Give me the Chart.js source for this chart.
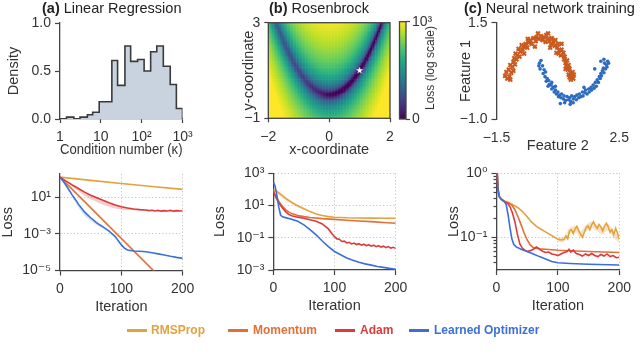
<!DOCTYPE html>
<html><head><meta charset="utf-8">
<script src="https://cdn.jsdelivr.net/npm/chart.js@4.4.0/dist/chart.umd.min.js"></script>
<style>
html,body{margin:0;padding:0;background:#fff;}
#wrap{position:relative;width:640px;height:358px;overflow:hidden;font-family:'Liberation Sans',Arial,'DejaVu Sans',sans-serif;color:#333;}
canvas{position:absolute;left:0;top:0;}
.ttl{position:absolute;top:0;font-size:14.5px;line-height:16px;white-space:nowrap;color:#222;}
.cbl{position:absolute;left:430px;top:68px;font-size:12px;line-height:14px;white-space:nowrap;color:#333;transform:translate(-50%,-50%) rotate(-90deg);}
.li{position:absolute;top:323px;height:14px;font-size:12px;line-height:14px;font-weight:bold;white-space:nowrap;}
.sw{position:absolute;top:329px;height:3px;width:20px;}
</style></head>
<body><div id="wrap">
<canvas id="c1" width="640" height="358"></canvas>
<canvas id="c2" width="640" height="358"></canvas>
<canvas id="c3" width="640" height="358"></canvas>
<canvas id="c4" width="640" height="358"></canvas>
<canvas id="c5" width="640" height="358"></canvas>
<canvas id="c6" width="640" height="358"></canvas>
<canvas id="c7" width="640" height="358"></canvas>
<div class="ttl" style="left:42px"><b>(a)</b> Linear Regression</div>
<div class="ttl" style="left:269px"><b>(b)</b> Rosenbrock</div>
<div class="ttl" style="left:464px"><b>(c)</b> Neural network training</div>
<div class="cbl">Loss (log scale)</div>
<div id="legend"></div>
</div>
<script>
// ---------------- data ----------------
// (a) histogram of condition numbers (bin edges in log10 kappa)
const kappaBinEdgesLog10 = [0,0.16,0.34,0.49,0.67,0.80,0.96,1.10,1.27,1.41,1.59,1.73,1.90,2.06,2.22,2.37,2.53,2.70,2.85,3.0];
const kappaDensity = [0,0.02,0,0.02,0.045,0.07,0.18,0.18,0.61,0.35,0.76,0.60,0.62,0.50,0.70,0.76,0.55,0.36,0.11];
const kappaTickVals = [0,1,2,3];
const kappaTickLabels = ['1','10','10²','10³'];
const densityTickVals = [0,0.5,1];
const densityTickLabels = ['0.0','0.5','1.0'];

// (b) Rosenbrock surface
const rosenA = 1, rosenB = 100;
const rbXMin = -2, rbXMax = 2, rbYMin = -1, rbYMax = 3, rbStep = 0.05;
const rbMinimum = [1, 1];
const cbMin = 0, cbMax = 3;            // colour bar in log10 units
const cbTickVals = [0, 3];
const cbTickLabels = ['0', '10³'];

// (c) two moons
const moonOrange = [[-1.22,0.12],[-1.15,0.05],[-1.05,0.02],[-1.08,0.10],[-1.18,0.22],[-1.10,0.28],[-1.02,0.20],[-0.98,0.35],[-1.05,0.40],[-0.95,0.48],[-0.90,0.42],[-0.92,0.58],[-0.85,0.55],[-0.82,0.66],[-0.88,0.70],[-0.75,0.62],[-0.72,0.75],[-0.78,0.82],[-0.65,0.80],[-0.60,0.88],[-0.68,0.92],[-0.55,0.95],[-0.50,0.85],[-0.45,0.98],[-0.40,1.05],[-0.48,1.08],[-0.35,0.95],[-0.30,1.10],[-0.22,1.02],[-0.20,1.12],[-0.12,1.08],[-0.05,1.15],[0.00,1.05],[0.05,1.12],[0.10,1.00],[0.12,1.18],[0.18,1.08],[0.22,1.02],[0.28,0.95],[0.30,1.10],[0.35,1.00],[0.40,0.90],[0.42,1.05],[0.48,0.85],[0.50,0.95],[0.55,0.78],[0.52,0.70],[0.60,0.65],[0.62,0.80],[0.68,0.72],[0.70,0.55],[0.72,0.62],[0.75,0.45],[0.80,0.52],[0.78,0.38],[0.85,0.40],[0.82,0.28],[0.88,0.30],[0.90,0.20],[0.85,0.15],[0.95,0.12],[1.00,0.05],[0.92,0.02],[0.88,0.08],[0.98,0.22],[0.75,0.30],[0.45,0.72],[0.25,0.85],[-0.25,0.88],[-0.60,0.70],[-0.95,0.25],[1.02,0.15],[0.62,0.95],[-0.15,1.22],[0.18,1.22]];
const moonBlue = [[-0.10,0.45],[-0.05,0.52],[0.00,0.38],[-0.08,0.30],[0.05,0.28],[0.02,0.18],[0.10,0.22],[0.08,0.10],[0.15,0.05],[0.12,-0.02],[0.20,0.00],[0.22,-0.10],[0.18,-0.15],[0.28,-0.12],[0.30,-0.22],[0.35,-0.18],[0.38,-0.30],[0.42,-0.25],[0.45,-0.35],[0.50,-0.30],[0.52,-0.42],[0.55,-0.38],[0.60,-0.45],[0.62,-0.35],[0.68,-0.48],[0.70,-0.40],[0.75,-0.52],[0.80,-0.42],[0.85,-0.50],[0.88,-0.45],[0.92,-0.55],[0.95,-0.40],[1.00,-0.48],[1.05,-0.42],[1.10,-0.50],[1.12,-0.38],[1.18,-0.45],[1.20,-0.35],[1.25,-0.42],[1.30,-0.30],[1.32,-0.40],[1.38,-0.32],[1.40,-0.25],[1.45,-0.35],[1.50,-0.22],[1.52,-0.30],[1.58,-0.18],[1.60,-0.25],[1.65,-0.12],[1.68,-0.20],[1.72,-0.05],[1.75,-0.15],[1.78,0.02],[1.82,-0.05],[1.85,0.10],[1.88,0.05],[1.90,0.18],[1.92,0.12],[1.95,0.25],[2.00,0.20],[1.98,0.32],[2.05,0.30],[2.08,0.40],[2.10,0.35],[2.15,0.45],[2.12,0.50],[1.70,0.30],[0.58,-0.60],[0.90,-0.62],[1.00,-0.58],[0.30,-0.05],[0.42,-0.15],[1.35,-0.18],[2.02,0.45],[0.72,-0.58],[-0.12,0.38],[1.90,0.50],[2.00,0.55]];

// loss curves: iterations and loss values
const iterTicks = [0,100,200];
const iterTickLabels = ['0','100','200'];
// (a)
const iterRmsA = [0,50,100,150,200];
const lossRmsA = [1.26,0.83,0.56,0.39,0.27];
const iterMomA = [0,200];
const lossMomA = [1.26,2.5e-7];
const iterAdamA = [0,10,20,30,40,50,60,70,80,90,100,110,120,130,140,145,150,155,160,165,170,175,180,185,190,195,200];
const lossAdamA = [1.26,0.76,0.47,0.30,0.19,0.13,0.095,0.068,0.050,0.038,0.030,0.026,0.023,0.021,0.020,0.0186,0.0195,0.0178,0.0191,0.0174,0.0186,0.0178,0.0191,0.0174,0.0186,0.0178,0.0182];
const iterLearnA = [0,5,10,15,20,25,30,40,50,60,70,80,90,100,105,110,120,130,140,150,160,170,180,190,200];
const lossLearnA = [1.26,0.76,0.44,0.24,0.13,0.076,0.042,0.0158,0.0076,0.0040,0.0024,0.0014,7.1e-4,2.5e-4,1.66e-4,1.32e-4,1.17e-4,1.12e-4,1.05e-4,9.3e-5,8.1e-5,7.1e-5,6.0e-5,5.2e-5,4.6e-5];
const bandIterAdamA = [20,30,40,50,60,70,80,90,100,110,120,130,140];
const bandLoAdamA = [0.39,0.21,0.12,0.079,0.055,0.039,0.030,0.024,0.021,0.020,0.0195,0.0186,0.0191];
const bandHiAdamA = [0.49,0.32,0.20,0.138,0.10,0.071,0.052,0.040,0.032,0.0275,0.0245,0.022,0.0204];
const bandIterLearnA = [20,30,40,50,60,70];
const bandLoLearnA = [0.10,0.028,0.0105,0.0052,0.0030,0.0020];
const bandHiLearnA = [0.141,0.045,0.017,0.0081,0.0042,0.0025];
const lossTickValsA = [1e-1,1e-3,1e-5];
const lossTickLabelsA = ['10¹','10⁻³','10⁻⁵'];
// (b)
const iterRmsB = [0,5,10,20,30,40,50,60,70,80,90,100,120,140,160,180,200];
const lossRmsB = [100,79,56,28,15.8,9.5,6.3,4.2,3.0,2.4,2.04,1.86,1.74,1.70,1.66,1.62,1.62];
const bandIterRmsB = [5,10,20,30,40,50,60];
const bandLoRmsB = [63,45,22,12.6,7.9,5.5,3.8];
const bandHiRmsB = [100,71,35,20,11.5,7.2,4.6];
const iterMomB = [0,5,10,15,20,25,30,40,50,60,80,100,120,140,160,180,200];
const lossMomB = [79,35,15.8,8.9,5.6,4.0,3.16,2.4,2.04,1.82,1.55,1.38,1.23,1.10,1.0,0.89,0.79];
const iterAdamB = [0,5,10,15,20,25,30,40,50,60,70,80,90,96,100,104,108,112,116,120,124,128,132,136,140,144,148,152,156,160,164,168,172,176,180,184,188,192,196,200];
const lossAdamB = [79,28,12.6,7.1,4.2,2.8,2.3,1.9,1.62,1.32,1.05,0.72,0.355,0.178,0.117,0.0851,0.0813,0.0589,0.0617,0.0479,0.0525,0.0417,0.0468,0.0380,0.0427,0.0347,0.0398,0.0324,0.0372,0.0302,0.0347,0.0282,0.0324,0.0263,0.0302,0.0245,0.0282,0.0229,0.0257,0.0219];
const iterLearnB = [0,3,6,9,12,15,20,30,40,50,60,70,80,90,100,110,120,130,140,150,160,170,180,190,200];
const lossLearnB = [282,158,40,7.9,2.5,2.0,1.78,1.41,1.05,0.63,0.32,0.151,0.063,0.028,0.0141,0.0089,0.0056,0.0040,0.0030,0.0024,0.0020,0.00166,0.00145,0.00126,0.00112];
const lossTickValsB = [1e3,1e1,1e-1,1e-3];
const lossTickLabelsB = ['10³','10¹','10⁻¹','10⁻³'];
// (c)
const iterRmsC = [0,2,4,8,13,20,27,35,41,50,57,65,72,79,86,93,100,105,110,113,116,119,122,125,128,131,134,137,140,143,146,149,152,155,158,161,164,167,170,173,176,179,182,185,188,191,194,197,200];
const lossRmsC = [2.0,0.63,0.44,0.40,0.37,0.35,0.32,0.29,0.26,0.21,0.174,0.148,0.135,0.123,0.112,0.102,0.093,0.091,0.093,0.105,0.095,0.126,0.132,0.115,0.135,0.148,0.126,0.112,0.100,0.120,0.141,0.151,0.132,0.158,0.174,0.151,0.138,0.158,0.145,0.126,0.151,0.166,0.145,0.120,0.132,0.110,0.138,0.117,0.093];
const bandIterRmsC = [100,110,119,128,137,146,155,164,173,182,191,200];
const bandLoRmsC = [0.085,0.085,0.112,0.120,0.100,0.125,0.140,0.123,0.112,0.128,0.098,0.083];
const bandHiRmsC = [0.101,0.102,0.141,0.150,0.126,0.158,0.177,0.155,0.141,0.163,0.124,0.104];
const iterMomC = [0,2,4,8,13,20,25,30,35,40,45,50,55,60,70,80,100,150,200];
const lossMomC = [2.0,0.63,0.44,0.39,0.36,0.34,0.32,0.27,0.21,0.158,0.117,0.091,0.076,0.069,0.066,0.065,0.063,0.060,0.058];
const iterAdamC = [0,2,4,8,13,18,22,26,30,34,38,42,46,50,55,60,65,68,72,76,80,85,90,95,100,105,110,115,118,121,125,130,135,140,145,150,155,160,165,170,175,180,185,190,195,200];
const lossAdamC = [2.0,0.63,0.44,0.39,0.36,0.34,0.30,0.24,0.174,0.112,0.079,0.068,0.063,0.060,0.062,0.065,0.071,0.068,0.063,0.060,0.058,0.059,0.055,0.054,0.052,0.055,0.058,0.060,0.065,0.059,0.063,0.056,0.054,0.051,0.055,0.052,0.056,0.052,0.050,0.054,0.051,0.055,0.050,0.052,0.048,0.049];
const iterLearnC = [0,2,4,8,13,16,19,22,25,28,32,40,50,60,70,80,90,100,120,150,200];
const lossLearnC = [2.0,0.63,0.44,0.39,0.36,0.32,0.22,0.141,0.095,0.078,0.071,0.065,0.060,0.055,0.050,0.046,0.042,0.040,0.039,0.038,0.037];
const lossTickValsC = [1,1e-1];
const lossTickLabelsC = ['10⁰','10⁻¹'];
const lossMinorTicksC = [0.9,0.8,0.7,0.6,0.5,0.4,0.3,0.2,0.09,0.08,0.07,0.06,0.05,0.04];

const optimizerNames = ['RMSProp','Momentum','Adam','Learned Optimizer'];

// ---------------- styling / helpers ----------------
const W = 640, H = 358;
const INK = '#444', TXT = '#333', GRIDC = '#bdbdbd';
const TICKFONT = 14, TITLEFONT = 14.5;
const COLORS = {RMSProp:'#E2A23D', Momentum:'#E06F3A', Adam:'#DD3A3A', 'Learned Optimizer':'#3C6FD9'};
const VIR = ['#440154','#482475','#414487','#355f8d','#2a788e','#21918c','#22a884','#44bf70','#7ad151','#bddf26','#fde725'];

Chart.defaults.font.family = "'Liberation Sans', Arial, 'DejaVu Sans', sans-serif";
Chart.defaults.font.size = 13;
Chart.defaults.color = TXT;
Chart.defaults.animation = false;
Chart.defaults.events = [];
Chart.defaults.responsive = false;
Chart.defaults.plugins.legend.display = false;
Chart.defaults.plugins.tooltip.enabled = false;

function hex2rgb(h){ return [parseInt(h.slice(1,3),16), parseInt(h.slice(3,5),16), parseInt(h.slice(5,7),16)]; }
const VIRRGB = VIR.map(hex2rgb);
function viridis(t){
  t = Math.max(0, Math.min(1, t));
  const s = t * 10, i = Math.min(9, Math.floor(s)), f = s - i;
  const a = VIRRGB[i], b = VIRRGB[i+1];
  return 'rgb(' + [0,1,2].map(k => Math.round(a[k] + (b[k]-a[k]) * f)).join(',') + ')';
}
function zeroPad(s){ s.paddingLeft = 0; s.paddingRight = 0; s.paddingTop = 0; s.paddingBottom = 0; }
function near(u, v){ return Math.abs(u - v) <= Math.abs(u) * 1e-6 + 1e-12; }
function mkAxis(o){
  const vertical = o.pos === 'left' || o.pos === 'right';
  const dotted = o.dotted || [];
  return {
    type: o.type || 'linear', position: o.pos, min: o.min, max: o.max, weight: o.weight || 0,
    afterBuildTicks: s => { s.ticks = o.ticks.map(v => ({value: v})); },
    afterFit: s => { if (vertical) s.width = o.size; else s.height = o.size; zeroPad(s); },
    ticks: { display: !!o.labels, autoSkip: false, maxRotation: 0, minRotation: 0, padding: o.pad ?? 4,
      color: TXT, font: {size: TICKFONT},
      callback: v => { const i = o.ticks.findIndex(u => near(u, v)); return (i < 0 || !o.labels) ? '' : o.labels[i]; } },
    grid: { display: true, drawOnChartArea: dotted.length > 0, drawTicks: o.drawTicks !== false,
      tickLength: o.tickLen ?? 5, tickWidth: 1.2, tickColor: INK, lineWidth: 0.9,
      color: c => (c.tick && dotted.some(u => near(u, c.tick.value))) ? GRIDC : 'rgba(0,0,0,0)' },
    border: { display: o.border !== false, color: INK, width: 1.3, dash: [1.2, 2.2] },
    title: o.title ? { display: true, text: o.title, color: TXT, font: {size: TITLEFONT}, padding: 0 } : { display: false }
  };
}
function pad(area, wy, hx, wr){ return {left: area[0] - wy, top: area[1], right: W - area[2] - (wr || 0), bottom: H - area[3] - hx}; }
const framePlugin = { id: 'frame', afterDatasetsDraw(chart){ const a = chart.chartArea, c = chart.ctx; c.save(); c.strokeStyle = INK; c.lineWidth = 1.3; c.strokeRect(a.left, a.top, a.right - a.left, a.bottom - a.top); c.restore(); } };
function series(iters, vals){ return iters.map((x, i) => ({x, y: vals[i]})); }
function lineDs(iters, vals, name, order){ return {label: name, data: series(iters, vals), borderColor: COLORS[name], borderWidth: 1.6, pointRadius: 0, fill: false, order, tension: 0}; }
function bandDs(iters, lo, hi, color){
  return [{data: series(iters, hi), borderWidth: 0, borderColor: 'rgba(0,0,0,0)', pointRadius: 0, fill: '+1', backgroundColor: color, order: 20, tension: 0.3},
          {data: series(iters, lo), borderWidth: 0, borderColor: 'rgba(0,0,0,0)', pointRadius: 0, fill: false, order: 20, tension: 0.3}];
}

// ---------------- (a) histogram ----------------
(function(){
  const pts = [{x: kappaBinEdgesLog10[0], y: 0}];
  kappaDensity.forEach((d, i) => pts.push({x: kappaBinEdgesLog10[i], y: d}));
  pts.push({x: kappaBinEdgesLog10[kappaBinEdgesLog10.length - 1], y: kappaDensity[kappaDensity.length - 1]});
  pts.push({x: kappaBinEdgesLog10[kappaBinEdgesLog10.length - 1], y: 0});
  const area = [60, 23, 182.5, 119];
  new Chart(document.getElementById('c1'), {
    type: 'line',
    data: {datasets: [{data: pts, stepped: true, fill: 'origin', backgroundColor: '#c9d3df', borderColor: '#3a3a3a', borderWidth: 1.6, pointRadius: 0}]},
    options: {layout: {padding: pad(area, 55, 40)},
      scales: {
        x: mkAxis({pos: 'bottom', min: 0, max: 3, ticks: kappaTickVals, labels: kappaTickLabels, title: 'Condition number (κ)', size: 40, tickLen: 4, pad: 6}),
        y: mkAxis({pos: 'left', min: 0, max: 1, ticks: densityTickVals, labels: densityTickLabels, title: 'Density', size: 55})
      }}
  });
})();

// ---------------- (b) Rosenbrock heat map ----------------
(function(){
  const rosen = (x, y) => (rosenA - x) ** 2 + rosenB * (y - x * x) ** 2;
  const pts = [], cols = [];
  const nx = Math.round((rbXMax - rbXMin) / rbStep), ny = Math.round((rbYMax - rbYMin) / rbStep);
  for (let j = 0; j <= ny; j++) for (let i = 0; i <= nx; i++) {
    const x = rbXMin + i * rbStep, y = rbYMin + j * rbStep;
    const f = rosen(x, y);
    pts.push({x, y});
    cols.push(viridis((Math.log10(Math.max(f, 1e-9)) - cbMin) / (cbMax - cbMin)));
  }
  const star = document.createElement('canvas'); star.width = 9; star.height = 9;
  const sc = star.getContext('2d'); sc.fillStyle = '#fff'; sc.beginPath();
  for (let k = 0; k < 10; k++) { const r = k % 2 ? 1.5 : 3.8, a = -Math.PI / 2 + k * Math.PI / 5; const px = 4.5 + r * Math.cos(a), py = 4.5 + r * Math.sin(a); k ? sc.lineTo(px, py) : sc.moveTo(px, py); }
  sc.closePath(); sc.fill();
  const area = [268.3, 22.7, 390, 118.3];
  new Chart(document.getElementById('c2'), {
    type: 'scatter',
    data: {datasets: [
      {data: pts, pointStyle: 'rect', pointRadius: 1.3, backgroundColor: cols, pointBackgroundColor: cols, borderWidth: 0, pointBorderWidth: 0, order: 2},
      {data: [{x: rbMinimum[0], y: rbMinimum[1]}], pointStyle: star, pointRadius: 4, order: 1}
    ]},
    options: {layout: {padding: pad(area, 28.4, 40)},
      scales: {
        x: mkAxis({pos: 'bottom', min: rbXMin, max: rbXMax, ticks: [-2, 0, 2], labels: ['−2', '0', '2'], title: 'x-coordinate', size: 40, border: false, tickLen: 4, pad: 6}),
        y: mkAxis({pos: 'left', min: rbYMin, max: rbYMax, ticks: [-1, 3], labels: ['−1', '3'], title: 'y-coordinate', size: 28.4, border: false, tickLen: 4})
      }},
    plugins: [framePlugin]
  });
  // colour bar
  new Chart(document.getElementById('c3'), {
    type: 'bar',
    data: {labels: ['loss'], datasets: [{data: [[cbMin, cbMax]], borderWidth: 0, barPercentage: 1, categoryPercentage: 1,
      backgroundColor: ctx => {
        const ch = ctx.chart; if (!ch.chartArea) return '#888';
        const ys = ch.scales.y; const g = ch.ctx.createLinearGradient(0, ys.getPixelForValue(cbMin), 0, ys.getPixelForValue(cbMax));
        VIR.forEach((c, k) => g.addColorStop(k / (VIR.length - 1), c)); return g; }}]},
    options: {layout: {padding: {left: 399.5, top: 21.7, right: W - 406 - 30, bottom: H - 119}},
      scales: {
        x: {display: false},
        y: mkAxis({pos: 'right', min: cbMin, max: cbMax, ticks: cbTickVals, labels: cbTickLabels, size: 30, border: false, tickLen: 4, pad: 2})
      }},
    plugins: [framePlugin]
  });
})();

// ---------------- (c) two moons ----------------
(function(){
  const area = [496.5, 22.7, 619.3, 119];
  new Chart(document.getElementById('c4'), {
    type: 'scatter',
    data: {datasets: [
      {data: moonOrange.map(([x, y]) => ({x, y})), pointStyle: 'crossRot', pointRadius: 2.7, borderColor: '#c95a1f', pointBorderColor: '#c95a1f', pointBorderWidth: 2, borderWidth: 2},
      {data: moonBlue.map(([x, y]) => ({x, y})), pointStyle: 'circle', pointRadius: 1.8, backgroundColor: '#2d6cc0', pointBackgroundColor: '#2d6cc0', pointBorderWidth: 0, borderWidth: 0}
    ]},
    options: {layout: {padding: pad(area, 39.4, 36)},
      scales: {
        x: mkAxis({pos: 'bottom', min: -1.5, max: 2.5, ticks: [-1.5, 2.5], labels: ['−1.5', '2.5'], title: 'Feature 2', size: 36, border: false, drawTicks: false, pad: 11}),
        y: mkAxis({pos: 'left', min: -1, max: 1.5, ticks: [-1, 1.5], labels: ['−1.0', '1.5'], title: 'Feature 1', size: 39.4})
      }}
  });
})();

// ---------------- loss curves ----------------
function xIter(){ return mkAxis({pos: 'bottom', min: 0, max: 200, ticks: iterTicks, labels: iterTickLabels, dotted: [100, 200], title: 'Iteration', size: 45, pad: 5}); }
new Chart(document.getElementById('c5'), {
  type: 'line',
  data: {datasets: [
    ...bandDs(bandIterAdamA, bandLoAdamA, bandHiAdamA, 'rgba(232,110,110,0.35)'),
    ...bandDs(bandIterLearnA, bandLoLearnA, bandHiLearnA, 'rgba(80,130,225,0.25)'),
    lineDs(iterLearnA, lossLearnA, 'Learned Optimizer', 1),
    lineDs(iterAdamA, lossAdamA, 'Adam', 2),
    lineDs(iterMomA, lossMomA, 'Momentum', 3),
    lineDs(iterRmsA, lossRmsA, 'RMSProp', 4)
  ]},
  options: {layout: {padding: pad([60, 174, 182.7, 270.5], 61, 45)},
    scales: {
      x: xIter(),
      y: mkAxis({type: 'logarithmic', pos: 'left', min: 1e-5, max: 1.86, ticks: lossTickValsA, labels: lossTickLabelsA, dotted: [1e-1, 1e-3], title: 'Loss', size: 61})
    }}
});
new Chart(document.getElementById('c6'), {
  type: 'line',
  data: {datasets: [
    ...bandDs(bandIterRmsB, bandLoRmsB, bandHiRmsB, 'rgba(235,180,100,0.35)'),
    lineDs(iterLearnB, lossLearnB, 'Learned Optimizer', 1),
    lineDs(iterAdamB, lossAdamB, 'Adam', 2),
    lineDs(iterMomB, lossMomB, 'Momentum', 3),
    lineDs(iterRmsB, lossRmsB, 'RMSProp', 4)
  ]},
  options: {layout: {padding: pad([273.3, 173.3, 395.7, 270], 61.7, 45)},
    scales: {
      x: xIter(),
      y: mkAxis({type: 'logarithmic', pos: 'left', min: 1e-3, max: 1e3, ticks: lossTickValsB, labels: lossTickLabelsB, dotted: [1e3, 1e1, 1e-1], title: 'Loss', size: 61.7})
    }}
});
new Chart(document.getElementById('c7'), {
  type: 'line',
  data: {datasets: [
    ...bandDs(bandIterRmsC, bandLoRmsC, bandHiRmsC, 'rgba(235,180,100,0.35)'),
    lineDs(iterLearnC, lossLearnC, 'Learned Optimizer', 1),
    lineDs(iterAdamC, lossAdamC, 'Adam', 2),
    lineDs(iterMomC, lossMomC, 'Momentum', 3),
    lineDs(iterRmsC, lossRmsC, 'RMSProp', 4)
  ]},
  options: {layout: {padding: pad([496.5, 173.3, 619.3, 270], 50.8, 45)},
    scales: {
      x: xIter(),
      y: mkAxis({type: 'logarithmic', pos: 'left', min: 0.0309, max: 1, ticks: lossTickValsC, labels: lossTickLabelsC, dotted: [1, 1e-1], title: 'Loss', size: 50.8, weight: 1}),
      ym: mkAxis({type: 'logarithmic', pos: 'left', min: 0.0309, max: 1, ticks: lossMinorTicksC, labels: null, size: 0, weight: 0, border: false, tickLen: 3})
    }}
});

// ---------------- legend ----------------
(function(){
  const lg = document.getElementById('legend');
  const sw = [127, 228, 335, 409], tx = [151, 253, 360, 434];
  optimizerNames.forEach((n, i) => {
    const s = document.createElement('div'); s.className = 'sw'; s.style.left = sw[i] + 'px'; s.style.background = COLORS[n]; lg.appendChild(s);
    const t = document.createElement('div'); t.className = 'li'; t.style.left = tx[i] + 'px'; t.style.color = COLORS[n]; t.textContent = n; lg.appendChild(t);
  });
})();
</script>
</body></html>
